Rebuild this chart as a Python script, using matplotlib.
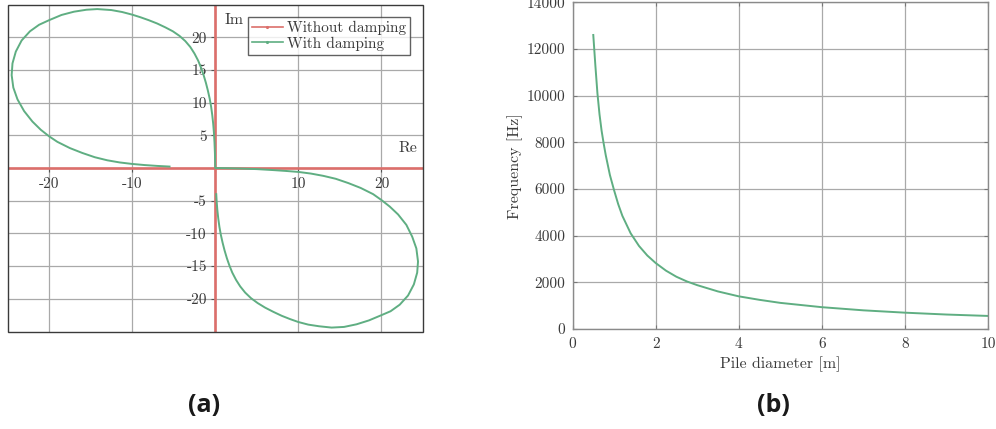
import numpy as np
import matplotlib
matplotlib.use("Agg")
import matplotlib.pyplot as plt
from matplotlib.lines import Line2D
from matplotlib.patches import Rectangle

plt.rcParams["font.family"] = "cmr10"
plt.rcParams["axes.unicode_minus"] = False
plt.rcParams["mathtext.fontset"] = "cm"

RED = "#dc6f6b"
GREEN = "#5fae82"
TXT = "#3a3a3a"
GRID = "#a9a9a9"

# ---- Nyquist diagram --------------------------------------------------
undamped_re = [-25, 25, np.nan, 0, 0]
undamped_im = [0, 0, np.nan, -25, 25]

damped_re = [-5.5, -7.0, -8.5, -10.0, -11.5, -13.0, -14.5, -16.0, -17.5, -19.0,
             -20.0, -21.0, -22.0, -23.0, -23.8, -24.3, -24.5, -24.4, -24.0, -23.3,
             -22.3, -21.2, -20.0, -18.5, -17.0, -15.5, -14.2, -12.5, -11.2, -10.0,
             -9.0, -8.0, -7.0, -6.0, -5.1, -4.3, -3.6, -3.0, -2.5, -2.05,
             -1.7, -1.4, -1.12, -0.88, -0.67, -0.5, -0.36, -0.25, -0.16, -0.09,
             -0.04, 0.0,
             1.5, 3.0, 5.0, 7.0, 8.5, 10.0, 11.5, 13.0, 14.5, 16.0,
             17.5, 19.0, 20.0, 21.0, 22.0, 23.0, 23.7, 24.2, 24.4, 24.3,
             23.9, 23.2, 22.2, 21.1, 20.0, 18.5, 17.0, 15.5, 14.0, 12.5,
             11.2, 10.0, 9.0, 8.0, 7.0, 6.0, 5.1, 4.3, 3.6, 3.0,
             2.5, 2.05, 1.7, 1.4, 1.12, 0.88, 0.67, 0.5, 0.36, 0.25,
             0.17, 0.12]
damped_im = [0.22, 0.32, 0.45, 0.62, 0.85, 1.18, 1.65, 2.3, 3.05, 4.0,
             4.85, 5.85, 7.1, 8.7, 10.5, 12.3, 14.2, 16.0, 17.8, 19.5,
             20.9, 21.9, 22.6, 23.4, 23.9, 24.2, 24.3, 24.15, 23.85, 23.45,
             23.05, 22.6, 22.1, 21.5, 20.9, 20.2, 19.4, 18.5, 17.5, 16.4,
             15.3, 14.2, 13.0, 11.8, 10.6, 9.4, 8.1, 6.8, 5.4, 3.9,
             2.3, 0.0,
             -0.03, -0.08, -0.17, -0.32, -0.45, -0.6, -0.85, -1.2, -1.65, -2.3,
             -3.05, -4.0, -4.9, -5.9, -7.1, -8.7, -10.5, -12.3, -14.3, -16.0,
             -17.8, -19.5, -20.9, -21.9, -22.5, -23.3, -23.9, -24.3, -24.4, -24.2,
             -23.95, -23.55, -23.1, -22.6, -22.0, -21.35, -20.65, -19.9, -19.05, -18.1,
             -17.1, -16.0, -14.9, -13.8, -12.6, -11.4, -10.2, -9.0, -7.7, -6.4,
             -5.1, -4.0]

nyq_xticks = [-20, -10, 0, 10, 20]
nyq_xlabels = ["-20", "-10", "", "10", "20"]
nyq_yticks = [-20, -15, -10, -5, 0, 5, 10, 15, 20]
nyq_ylabels = ["-20", "-15", "-10", "-5", "", "5", "10", "15", "20"]

# ---- Natural frequency vs pile diameter -------------------------------
pile_d = [0.5, 0.55, 0.6, 0.65, 0.7, 0.75, 0.8, 0.9, 1.0, 1.1, 1.2, 1.4, 1.6,
          1.8, 2.0, 2.25, 2.5, 2.75, 3.0, 3.5, 4.0, 4.5, 5.0, 6.0, 7.0, 8.0,
          9.0, 10.0]
freq = [12600, 11300, 10100, 9200, 8500, 7950, 7450, 6600, 5950, 5350, 4850,
        4100, 3560, 3150, 2830, 2500, 2240, 2040, 1880, 1610, 1400, 1250, 1120,
        935, 800, 700, 620, 560]

fig = plt.figure(figsize=(9.96, 4.29), dpi=100)
W, H = 996.0, 429.0

# Left: Nyquist diagram with axes through the origin
ax1 = fig.add_axes([7.5 / W, (H - 331.5) / H, 415.5 / W, 327.0 / H])
ax1.set_xlim(-25, 25)
ax1.set_ylim(-25, 25)
ax1.set_xticks(nyq_xticks, labels=nyq_xlabels)
ax1.set_yticks(nyq_yticks, labels=nyq_ylabels)
ax1.grid(True, color=GRID, lw=0.9)
ax1.set_axisbelow(True)
for side in ("top", "right"):
    ax1.spines[side].set_visible(False)
ax1.spines["left"].set_position(("data", 0))
ax1.spines["bottom"].set_position(("data", 0))
ax1.spines["left"].set_visible(False)
ax1.spines["bottom"].set_visible(False)
ax1.tick_params(axis="both", direction="out", length=3, width=0.8,
                colors="#555555", labelcolor=TXT, labelsize=11)
ax1.tick_params(axis="x", pad=4)
ax1.tick_params(axis="y", pad=3)
ax1.add_patch(Rectangle((0, 0), 1, 1, transform=ax1.transAxes, fill=False,
                        ec="#3a3a3a", lw=1.0, clip_on=False, zorder=5))

ax1.plot(undamped_re, undamped_im, color=RED, lw=1.9, zorder=3)
ax1.plot(damped_re, damped_im, color=GREEN, lw=1.4, zorder=4,
         solid_joinstyle="round")

ax1.text(1.1, 22.6, "Im", fontsize=11.5, color=TXT, ha="left", va="center")
ax1.text(24.3, 3.1, "Re", fontsize=11.5, color=TXT, ha="right", va="center")

handles = [Line2D([], [], color=RED, lw=1.2, marker=".", markersize=2.5),
           Line2D([], [], color=GREEN, lw=1.2, marker=".", markersize=2.5)]
leg = ax1.legend(handles, ["Without damping", "With damping"],
                 loc="upper right", bbox_to_anchor=(0.969, 0.962),
                 fontsize=11, frameon=True, fancybox=False,
                 handlelength=2.0, handletextpad=0.3, borderpad=0.25,
                 labelspacing=0.1, borderaxespad=0.0)
leg.get_frame().set_edgecolor("#3a3a3a")
leg.get_frame().set_linewidth(1.0)
for t in leg.get_texts():
    t.set_color(TXT)

# Right: frequency against pile diameter
ax2 = fig.add_axes([572.5 / W, (H - 329.0) / H, 415.5 / W, 326.7 / H])
ax2.plot(pile_d, freq, color=GREEN, lw=1.4)
ax2.set_xlim(0, 10)
ax2.set_ylim(0, 14000)
ax2.set_xticks([0, 2, 4, 6, 8, 10])
ax2.set_yticks([0, 2000, 4000, 6000, 8000, 10000, 12000, 14000])
ax2.grid(True, color=GRID, lw=0.9)
ax2.set_axisbelow(True)
for sp in ax2.spines.values():
    sp.set_color("#8a8a8a")
    sp.set_linewidth(1.0)
ax2.tick_params(axis="both", direction="in", length=3, width=0.8,
                top=True, right=True, colors="#777777", labelcolor=TXT,
                labelsize=11)
ax2.tick_params(axis="x", pad=6)
ax2.tick_params(axis="y", pad=5)
ax2.set_xlabel("Pile diameter [m]", fontsize=11.5, color=TXT)
ax2.set_ylabel("Frequency [Hz]", fontsize=11.5, color=TXT)
ax2.xaxis.set_label_coords(0.5, -0.083)
ax2.yaxis.set_label_coords(-0.118, 0.5)

# Panel captions
fig.text(204 / W, 1 - 406 / H, "(a)", fontsize=18, fontweight="bold",
         family="Open Sans", ha="center", va="center", color="#1a1a1a")
fig.text(773 / W, 1 - 406 / H, "(b)", fontsize=18, fontweight="bold",
         family="Open Sans", ha="center", va="center", color="#1a1a1a")

fig.savefig("out.png", dpi=100, facecolor="white")
